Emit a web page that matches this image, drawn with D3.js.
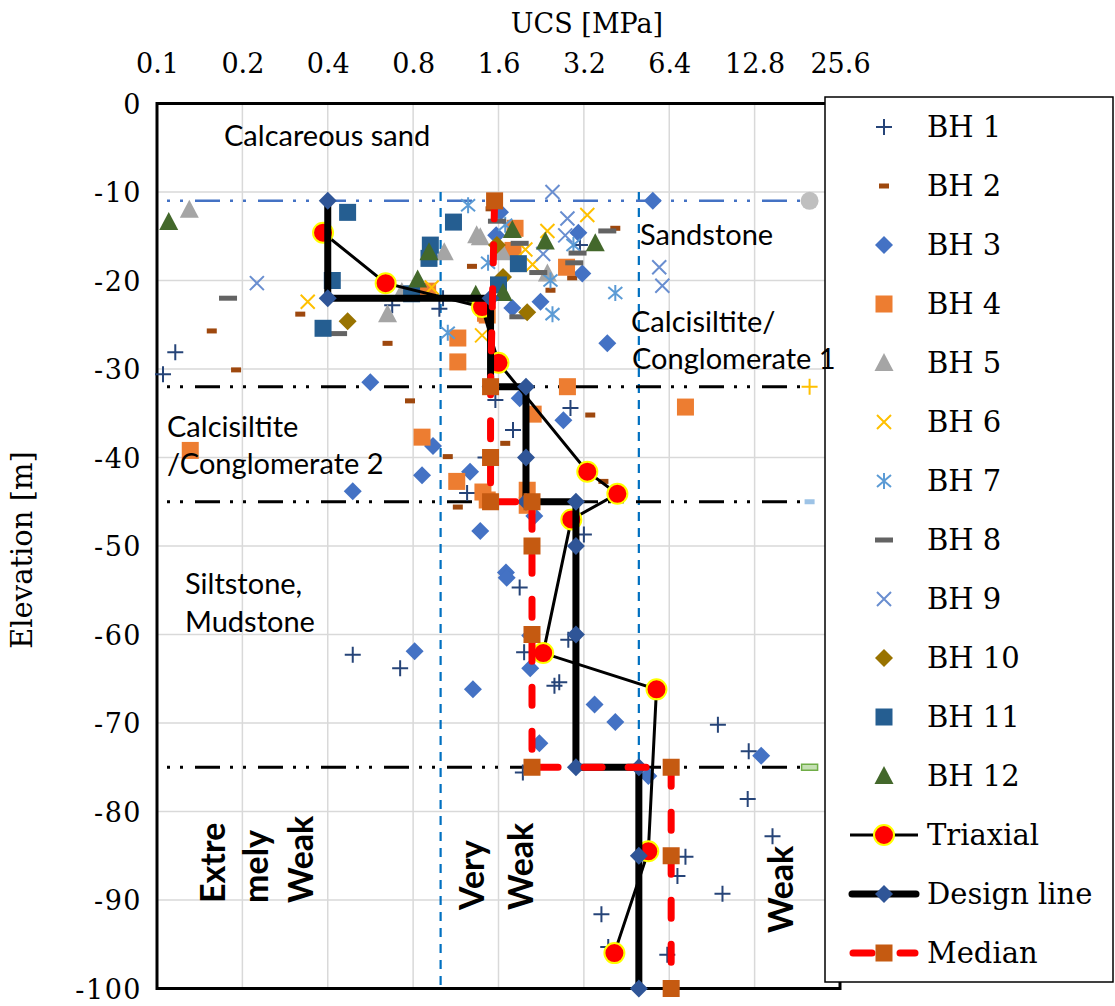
<!DOCTYPE html>
<html>
<head>
<meta charset="utf-8">
<script src="https://cdn.jsdelivr.net/npm/d3@7"></script>
<style>
body { margin: 0; background: #fff; }
</style>
</head>
<body>
<svg id="chart" width="1115" height="1006"></svg>
<script>
// axis ticks
var ucsTicks = [0.1, 0.2, 0.4, 0.8, 1.6, 3.2, 6.4, 12.8, 25.6];
var elevTicks = [0, -10, -20, -30, -40, -50, -60, -70, -80, -90, -100];

// borehole UCS tests [UCS MPa, elevation m]
var bh1 = [[0.116,-28.1],[0.105,-30.6],[0.675,-22.8],[0.99,-23.2],[1.02,-22],[3.1,-16],[1.56,-33.5],[2.87,-34.4],
    [1.8,-36.9],[1.44,-40],[3.2,-48.7],[1.24,-44],[0.49,-62.3],[0.72,-63.8],[1.9,-54.7],[2.82,-60.6],[1.97,-62],
    [2.62,-65.4],[2.52,-65.8],[9.5,-70.2],[12.2,-73.2],[1.95,-75.6],[12.1,-78.6],[14.8,-82.8],[7.3,-85.1],
    [6.84,-87.3],[9.86,-89.3],[3.69,-91.6],[3.9,-95.3],[6.3,-96.2]];
var bh2 = [[0.156,-25.7],[0.32,-23.8],[0.65,-27.1],[1.29,-18.4],[1.5,-11.9],[4.13,-14.1],[2.91,-19.7],[2.44,-21.1],
    [0.19,-30.1],[0.78,-33.6],[1.06,-39.9],[1.15,-45.6],[3.37,-35.2],[1.69,-38.4],[3.75,-42.7]];
var bh3 = [[5.6,-11],[1.62,-12.3],[3.06,-14.6],[3.16,-19.2],[2.25,-22.4],[1.79,-23.1],[1.57,-14.9],[3.87,-27.1],
    [0.565,-31.5],[0.94,-38.7],[0.86,-42],[0.49,-43.8],[1.27,-41.6],[1.38,-48.3],[1.9,-33.3],[2.71,-35.8],
    [2.14,-46.6],[0.81,-61.9],[1.3,-66.2],[1.7,-53],[1.71,-53.6],[2.07,-60.1],[2.07,-63.8],[3.49,-67.9],
    [4.13,-69.9],[2.23,-72.3],[13.5,-73.7],[5.4,-76]];
var bh4 = [[1.15,-26.5],[1.15,-29.2],[1.46,-23.9],[0.9,-21.2],[1.83,-14.1],[1.8,-16.6],[2.78,-18.5],[1.44,-23.7],
    [0.131,-39.2],[0.86,-37.7],[1.14,-42.7],[1.41,-43.9],[1.46,-44.8],[2.8,-32],[2.12,-35.1],[7.3,-34.3],
    [2.02,-43.7],[2.02,-45.4]];
var bh5 = [[0.13,-12],[1.34,-14.9],[1.03,-16.8],[0.65,-23.8],[0.73,-21.3],[1.38,-15.1],[1.65,-16.8],[2.38,-19.2]];
var bh6 = [[0.34,-22.4],[0.93,-20.8],[1.4,-26.2],[3.29,-12.6],[2.38,-14.4],[1.99,-16.5],[2.11,-18.2]];
var bh7 = [[1.25,-11.5],[1.47,-18],[1.06,-25.9],[2.44,-20],[4.13,-21.4],[2.48,-23.8],[1.69,-13.7],[2.94,-16]];
var bh8 = [[0.178,-22],[0.435,-26],[1.58,-13.3],[1.9,-15.8],[2.21,-19.1],[3.04,-16.9],[2.96,-18],[3.87,-14.4],[1.88,-24.1]];
var bh9 = [[0.225,-20.3],[2.48,-10],[2.8,-13],[2.75,-14.9],[2.3,-17],[5.9,-18.5],[6.05,-20.6]];
var bh10 = [[0.47,-24.6],[1.58,-16],[2.02,-23.6],[1.66,-19.6]];
var bh11 = [[0.47,-12.3],[1.11,-13.4],[0.92,-16],[0.415,-20],[0.79,-21.5],[0.385,-25.4],[0.91,-17.5],[1.88,-18.1],[1.6,-20.5]];
var bh12 = [[0.11,-13.4],[0.91,-16.8],[0.83,-19.9],[1.33,-21.6],[1.79,-14.3],[2.34,-15.6],[3.51,-15.8],[1.66,-21.4]];

var triaxial = [[0.385,-14.6],[0.64,-20.3],[1.4,-23],[1.6,-29.3],[3.29,-41.6],[4.2,-44.1],[2.89,-47],
    [2.3,-62.1],[5.77,-66.2],[5.4,-84.5],[4.1,-96]];
var designLine = [[0.4,-11],[0.4,-22],[1.5,-22],[1.5,-32],[2,-32],[2,-40],[2,-45],[3,-45],[3,-50],[3,-60],
    [3,-75],[5,-75],[5,-85],[5,-100]];
var median = [[1.55,-11],[1.5,-32],[1.5,-40],[1.5,-45],[2.1,-45],[2.1,-50],[2.1,-60],[2.1,-75],[6.5,-75],
    [6.5,-85],[6.5,-100]];

// layer boundaries and strength class limits
var layerElev = [-11, -32, -45, -75];
var layerUcs = [0.1, 20];
var classUcs = [1, 5];
var classElev = [-10, -100];

var svg = d3.select("#chart");
var x = d3.scaleLog().base(2).domain([0.1, 25.6]).range([157, 840]);
var y = d3.scaleLinear().domain([0, -100]).range([103.5, 988.5]);
var line = d3.line().x(function (d) { return x(d[0]); }).y(function (d) { return y(d[1]); });

function drawMarker(g, type, color) {
    if (type == "plus") {
        g.append("path").attr("d", "M-8,0H8M0,-8V8").attr("stroke", color).attr("stroke-width", 2).attr("fill", "none");
    } else if (type == "cross") {
        g.append("path").attr("d", "M-7,-7L7,7M-7,7L7,-7").attr("stroke", color).attr("stroke-width", 2).attr("fill", "none");
    } else if (type == "star") {
        g.append("path").attr("d", "M0,-8V8M-7,-6L7,6M-7,6L7,-6").attr("stroke", color).attr("stroke-width", 2).attr("fill", "none");
    } else if (type == "dashS") {
        g.append("rect").attr("x", -5).attr("y", -2.5).attr("width", 10).attr("height", 5).attr("fill", color);
    } else if (type == "dashL") {
        g.append("rect").attr("x", -9).attr("y", -2.5).attr("width", 18).attr("height", 5).attr("fill", color);
    } else if (type == "diamond") {
        g.append("path").attr("d", "M0,-9L9,0L0,9L-9,0Z").attr("fill", color);
    } else if (type == "square") {
        g.append("rect").attr("x", -8.5).attr("y", -8.5).attr("width", 17).attr("height", 17).attr("fill", color);
    } else if (type == "triangle") {
        g.append("path").attr("d", "M0,-10L9.5,8H-9.5Z").attr("fill", color);
    } else if (type == "circle") {
        g.append("circle").attr("r", 10).attr("fill", "#ff0000").attr("stroke", "#ffff00").attr("stroke-width", 2);
    } else if (type == "dot") {
        g.append("circle").attr("r", 9).attr("fill", color);
    } else if (type == "bar") {
        g.append("rect").attr("x", -8).attr("y", -3).attr("width", 16).attr("height", 6)
            .attr("fill", "#c5e0b4").attr("stroke", "#70ad47").attr("stroke-width", 1.5);
    }
}

var series = [
    { name: "BH 1", data: bh1, type: "plus", color: "#264478" },
    { name: "BH 2", data: bh2, type: "dashS", color: "#9e480e" },
    { name: "BH 3", data: bh3, type: "diamond", color: "#4472c4" },
    { name: "BH 4", data: bh4, type: "square", color: "#ed7d31" },
    { name: "BH 5", data: bh5, type: "triangle", color: "#a5a5a5" },
    { name: "BH 6", data: bh6, type: "cross", color: "#ffc000" },
    { name: "BH 7", data: bh7, type: "star", color: "#5b9bd5" },
    { name: "BH 8", data: bh8, type: "dashL", color: "#636363" },
    { name: "BH 9", data: bh9, type: "cross", color: "#698ed0" },
    { name: "BH 10", data: bh10, type: "diamond", color: "#997300" },
    { name: "BH 11", data: bh11, type: "square", color: "#255e91" },
    { name: "BH 12", data: bh12, type: "triangle", color: "#43682b" }
];

// gridlines
var grid = svg.append("g");
grid.selectAll(".gx").data(ucsTicks.slice(1)).enter().append("line")
    .attr("x1", function (d) { return x(d); }).attr("x2", function (d) { return x(d); })
    .attr("y1", y(0)).attr("y2", y(-100))
    .attr("stroke", "#d9d9d9").attr("stroke-width", 1.5);
grid.selectAll(".gy").data(elevTicks.slice(1, -1)).enter().append("line")
    .attr("x1", x(0.1)).attr("x2", x(25.6))
    .attr("y1", function (d) { return y(d); }).attr("y2", function (d) { return y(d); })
    .attr("stroke", "#d9d9d9").attr("stroke-width", 1.5);

// frame
svg.append("rect")
    .attr("x", x(0.1)).attr("y", y(0))
    .attr("width", x(25.6) - x(0.1)).attr("height", y(-100) - y(0))
    .attr("fill", "none").attr("stroke", "#000").attr("stroke-width", 3);

// strength class limits
classUcs.forEach(function (u) {
    svg.append("path")
        .attr("d", line(classElev.map(function (e) { return [u, e]; })))
        .attr("stroke", "#0070c0").attr("stroke-width", 2.2).attr("stroke-dasharray", "9 7").attr("fill", "none");
});

// layer boundaries
var boundStyle = [
    { color: "#4472c4", end: "dot", endColor: "#bfbfbf" },
    { color: "#000", end: "plus", endColor: "#ffc000" },
    { color: "#000", end: "dashS", endColor: "#9dc3e6" },
    { color: "#000", end: "bar", endColor: "#a9d18e" }
];
layerElev.forEach(function (e, i) {
    var pts = layerUcs.map(function (u) { return [u, e]; });
    svg.append("path").attr("d", line(pts))
        .attr("stroke", boundStyle[i].color).attr("stroke-width", i == 0 ? 2.5 : 3)
        .attr("stroke-dasharray", "3 10 3 12 25 10").attr("stroke-dashoffset", 53)
        .attr("fill", "none");
    drawMarker(svg.append("g").attr("transform", "translate(" + x(pts[1][0]) + "," + y(e) + ")"),
        boundStyle[i].end, boundStyle[i].endColor);
});

// borehole scatter
series.forEach(function (s) {
    svg.append("g").selectAll("g").data(s.data).enter().append("g")
        .attr("transform", function (d) { return "translate(" + x(d[0]) + "," + y(d[1]) + ")"; })
        .each(function () { drawMarker(d3.select(this), s.type, s.color); });
});

// triaxial
svg.append("path").attr("d", line(triaxial)).attr("stroke", "#000").attr("stroke-width", 3).attr("fill", "none");
svg.append("g").selectAll("g").data(triaxial).enter().append("g")
    .attr("transform", function (d) { return "translate(" + x(d[0]) + "," + y(d[1]) + ")"; })
    .each(function () { drawMarker(d3.select(this), "circle"); });

// design line
svg.append("path").attr("d", line(designLine)).attr("stroke", "#000").attr("stroke-width", 7)
    .attr("stroke-linejoin", "round").attr("fill", "none");
svg.append("g").selectAll("g").data(designLine).enter().append("g")
    .attr("transform", function (d) { return "translate(" + x(d[0]) + "," + y(d[1]) + ")"; })
    .each(function () { drawMarker(d3.select(this), "diamond", "#2f5597"); });

// median
svg.append("path").attr("d", line(median)).attr("stroke", "#ff0000").attr("stroke-width", 7)
    .attr("stroke-dasharray", "18 26").attr("stroke-linecap", "round").attr("fill", "none");
svg.append("g").selectAll("g").data(median).enter().append("g")
    .attr("transform", function (d) { return "translate(" + x(d[0]) + "," + y(d[1]) + ")"; })
    .each(function () { drawMarker(d3.select(this), "square", "#c55a11"); });

// axes
var xAxis = svg.append("g").attr("transform", "translate(0," + y(0) + ")")
    .call(d3.axisTop(x).tickValues(ucsTicks).tickFormat(function (d) { return String(d); }).tickSize(0).tickPadding(31));
var yAxis = svg.append("g").attr("transform", "translate(" + x(0.1) + ",0)")
    .call(d3.axisLeft(y).tickValues(elevTicks).tickFormat(function (d) { return String(d); }).tickSize(0).tickPadding(15));
[xAxis, yAxis].forEach(function (a) {
    a.select(".domain").remove();
    a.selectAll("text").attr("font-family", "DejaVu Serif").attr("font-size", 26).attr("fill", "#000");
});
xAxis.selectAll("text").attr("font-size", 27);
yAxis.selectAll("text").attr("dy", "0.36em").attr("font-size", 27).attr("letter-spacing", 1.5);

svg.append("text").attr("x", 587).attr("y", 33).attr("text-anchor", "middle")
    .attr("font-family", "DejaVu Serif").attr("font-size", 27).text("UCS [MPa]");
svg.append("text").attr("transform", "translate(32,550) rotate(-90)").attr("text-anchor", "middle")
    .attr("font-family", "DejaVu Serif").attr("font-size", 29).text("Elevation [m]");

// legend
var legend = svg.append("g");
legend.append("rect").attr("x", 825).attr("y", 97).attr("width", 288).attr("height", 885)
    .attr("fill", "#fff").attr("stroke", "#000").attr("stroke-width", 1.5);
var legendItems = series.map(function (s) { return { name: s.name, type: s.type, color: s.color }; });
legendItems.push({ name: "Triaxial", type: "tri" }, { name: "Design line", type: "design" }, { name: "Median", type: "median" });
legendItems.forEach(function (it, i) {
    var ly = 127 + 59 * i;
    var g = legend.append("g").attr("transform", "translate(884," + ly + ")");
    if (it.type == "tri") {
        g.append("line").attr("x1", -34).attr("x2", 34).attr("stroke", "#000").attr("stroke-width", 3);
        drawMarker(g, "circle");
    } else if (it.type == "design") {
        g.append("line").attr("x1", -32).attr("x2", 32).attr("stroke", "#000").attr("stroke-width", 7).attr("stroke-linecap", "round");
        drawMarker(g, "diamond", "#2f5597");
    } else if (it.type == "median") {
        g.append("path").attr("d", "M-31,0H-12M16,0H31").attr("stroke", "#ff0000").attr("stroke-width", 7).attr("stroke-linecap", "round");
        drawMarker(g, "square", "#c55a11");
    } else {
        drawMarker(g, it.type, it.color);
    }
    legend.append("text").attr("x", 927).attr("y", ly).attr("dy", "0.36em")
        .attr("font-family", "DejaVu Serif").attr("font-size", 29).text(it.name);
});

// layer names
var notes = svg.append("g").attr("font-family", "Lato").attr("font-size", 29).attr("fill", "#000");
notes.append("text").attr("x", 224).attr("y", 146).text("Calcareous sand");
notes.append("text").attr("x", 640).attr("y", 245).text("Sandstone");
notes.append("text").attr("x", 631).attr("y", 332).text("Calcisiltite/");
notes.append("text").attr("x", 632).attr("y", 369).text("Conglomerate 1");
notes.append("text").attr("x", 167).attr("y", 437).text("Calcisiltite");
notes.append("text").attr("x", 167).attr("y", 474).text("/Conglomerate 2");
notes.append("text").attr("x", 185).attr("y", 594).text("Siltstone,");
notes.append("text").attr("x", 185).attr("y", 632).text("Mudstone");

// strength classes
var cls = svg.append("g").attr("font-family", "Lato").attr("font-weight", "bold").attr("font-size", 34);
[["Extre", 225, 903], ["mely", 268, 903], ["Weak", 313, 903], ["Very", 484, 910], ["Weak", 533, 910], ["Weak", 793, 933]]
    .forEach(function (t) {
        cls.append("text").attr("transform", "translate(" + t[1] + "," + t[2] + ") rotate(-90)").text(t[0]);
    });
</script>
</body>
</html>
